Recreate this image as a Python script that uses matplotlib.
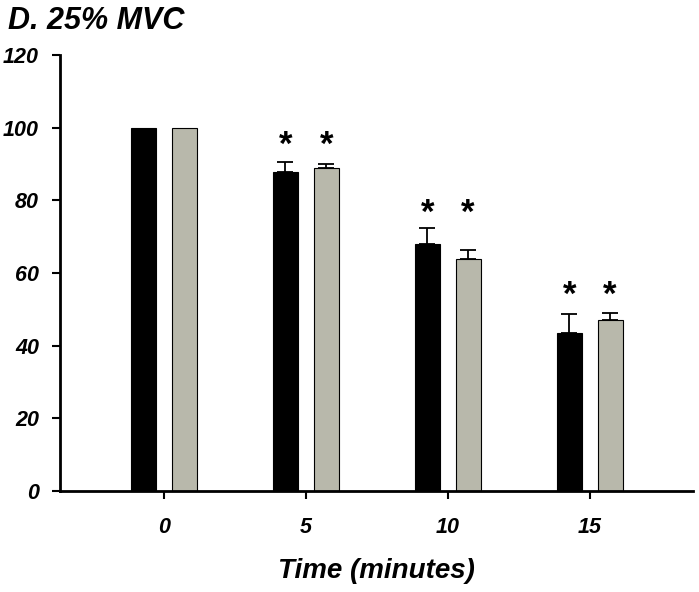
import matplotlib
matplotlib.use('Agg')
from matplotlib import pyplot as plt
import numpy as np

# data
times = ['0', '5', '10', '15']
black_vals = [100, 87.9, 67.9, 43.6]
black_err = [0, 2.7, 4.4, 5.1]
gray_vals = [100, 88.8, 63.8, 47.1]
gray_err = [0, 1.3, 2.5, 2.0]
star_y = [None, 96.3, 77.6, 55.0]   # height of the * marks per group

plt.rcParams['font.family'] = ['Liberation Sans', 'DejaVu Sans']
plt.rcParams['font.weight'] = 'bold'
plt.rcParams['font.style'] = 'italic'

fig = plt.figure(figsize=(6.99, 5.92), dpi=100)
ax = fig.add_axes([0.0858, 0.1706, 0.905, 0.7365])

x = np.arange(len(times))
w = 0.176
off = 0.144

ax.bar(x - off, black_vals, w, color='black', edgecolor='black', linewidth=0.8)
ax.bar(x + off, gray_vals, w, color='#b8b8ab', edgecolor='black', linewidth=0.8)

# upper error bars only, none at time 0
for i in range(len(times)):
    if black_err[i] > 0:
        ax.errorbar(x[i] - off, black_vals[i], yerr=[[0], [black_err[i]]], fmt='none',
                    ecolor='black', elinewidth=1.3, capsize=6, capthick=1.3)
    if gray_err[i] > 0:
        ax.errorbar(x[i] + off, gray_vals[i], yerr=[[0], [gray_err[i]]], fmt='none',
                    ecolor='black', elinewidth=1.3, capsize=6, capthick=1.3)

# asterisks
for i in range(len(times)):
    if star_y[i] is None:
        continue
    for xx in (x[i] - off, x[i] + off):
        ax.annotate('*', (xx, star_y[i]), xytext=(0, -10), textcoords='offset points',
                    ha='center', va='baseline', fontsize=25, style='normal')

ax.set_xlim(-0.732, 3.725)
ax.set_ylim(0, 120)
ax.set_yticks([0, 20, 40, 60, 80, 100, 120])
ax.set_xticks(x)
ax.set_xticklabels(times)
ax.tick_params(axis='both', labelsize=15.5, width=1.5, length=6, direction='out')
ax.tick_params(axis='x', pad=13)
ax.tick_params(axis='y', pad=9)
ax.spines['top'].set_visible(False)
ax.spines['right'].set_visible(False)
ax.spines['left'].set_linewidth(2)
ax.spines['bottom'].set_linewidth(2)

ax.set_xlabel('Time (minutes)', fontsize=20, fontweight='bold', labelpad=14)
fig.text(0.011, 0.951, 'D. 25% MVC', fontsize=22, ha='left', va='baseline')

fig.savefig('out.png', dpi=100)
